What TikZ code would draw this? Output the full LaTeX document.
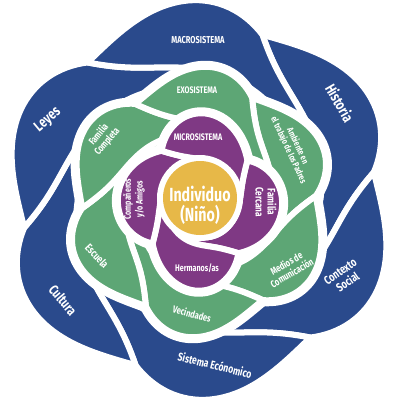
\documentclass[tikz,border=0pt]{standalone}
\usepackage{fontspec}
\setmainfont{Fira Sans}[FakeStretch=0.75]
\usepackage{xcolor}
\definecolor{macroblue}{RGB}{42,74,140}
\definecolor{exogreen}{RGB}{93,166,117}
\definecolor{micropurple}{RGB}{127,57,132}
\definecolor{childgold}{RGB}{231,184,72}
% one swirl leaf: outer edge from the tip on, inner edge along the leaf before it
\newcommand\petalpath[1]{plot[domain=0:3,samples=121] ({#1-90+\pP*\x}:{\pR*pr(\x)}) -- plot[domain=3:0,samples=121] ({#1-90+\pP*\x}:{\pR*pr(\x+1)}) -- cycle}

\begin{document}
\begin{tikzpicture}[x=1pt,y=-1pt,line join=round,
  declare function={pr(\u)=(\u<1) ? (1+\pH*sin(180*\u)*(1+\pC*(\u-0.5))) : (1-\pA*(1-exp(-\pK*(\u-1)))-0.05*(\u-1)*(\u-1));},
  halo/.style={fill=white,draw=white,line width=12pt},
  leaf/.style={fill=#1,draw=white,line width=6pt},
  lbl/.style={text=white,inner sep=0pt,align=center,font=\bfseries\fontsize{#1}{#1}\selectfont}]
\fill[white] (0,0) rectangle (400,400);
\useasboundingbox (0,0) rectangle (400,400);
% macrosistema
\begin{scope}[shift={(199,200)}]
\def\pR{177}\def\pH{0.118}\def\pC{1.5}\def\pA{0.25}\def\pK{5}\def\pP{60}
\path[leaf=macroblue] \petalpath{21};
\path[leaf=macroblue] \petalpath{81};
\path[leaf=macroblue] \petalpath{141};
\path[leaf=macroblue] \petalpath{201};
\path[leaf=macroblue] \petalpath{261};
\path[leaf=macroblue] \petalpath{321};
\end{scope}
% exosistema
\begin{scope}[shift={(199,202)}]
\def\pR{117}\def\pH{0.144}\def\pC{1.5}\def\pA{0.33}\def\pK{5}\def\pP{60}
\path[halo] \petalpath{27};
\path[halo] \petalpath{87};
\path[halo] \petalpath{147};
\path[halo] \petalpath{207};
\path[halo] \petalpath{267};
\path[halo] \petalpath{327};
\path[leaf=exogreen] \petalpath{27};
\path[leaf=exogreen] \petalpath{87};
\path[leaf=exogreen] \petalpath{147};
\path[leaf=exogreen] \petalpath{207};
\path[leaf=exogreen] \petalpath{267};
\path[leaf=exogreen] \petalpath{327};
\end{scope}
% microsistema
\begin{scope}[shift={(200,202)},yscale=1.08]
\def\pR{61}\def\pH{0.343}\def\pC{-0.5}\def\pA{0.37}\def\pK{6}\def\pP{90}
\path[halo] \petalpath{51};
\path[halo] \petalpath{141};
\path[halo] \petalpath{231};
\path[halo] \petalpath{321};
\path[leaf=micropurple] \petalpath{51};
\path[leaf=micropurple] \petalpath{141};
\path[leaf=micropurple] \petalpath{231};
\path[leaf=micropurple] \petalpath{321};
\end{scope}
% individuo
\fill[white] (200,198) circle (43);
\fill[childgold] (200,198) circle (37);

\node[lbl=10] (macro) at (198,40) {MACROSISTEMA};
\node[lbl=15,rotate=40] (leyes) at (48,120) {Leyes};
\node[lbl=15,rotate=-60] (historia) at (340,103) {Historia};
\node[lbl=12,rotate=35] (contexto) at (344,277) {Contexto\\[1pt]Social};
\node[lbl=11.5,rotate=-14] (economico) at (215,365) {Sistema Ecónomico};
\node[lbl=14,rotate=-50] (cultura) at (63,300) {Cultura};

\node[lbl=9.5] (exo) at (197,90) {EXOSISTEMA};
\node[lbl=10,rotate=50] (completa) at (103,138) {Familia\\[1pt]Completa};
\node[lbl=9,rotate=-65] (padres) at (293,148) {Ambiente en\\[1pt]el trabajo de los Padres};
\node[lbl=10,rotate=30] (medios) at (289,268) {Medios de\\[1pt]Comunicación};
\node[lbl=10,rotate=-15] (vecindades) at (192,314) {Vecindades};
\node[lbl=11,rotate=-47] (escuela) at (97,256) {Escuela};

\node[lbl=9.5] (micro) at (198,137) {MICROSISTEMA};
\node[lbl=11,rotate=-90] (cercana) at (266,202) {Familia\\[1pt]Cercana};
\node[lbl=9.5] (hermanos) at (197,268) {Hermanos/as};
\node[lbl=9.5,rotate=90] (amigos) at (134,199) {Compañeros\\[1pt]y/o Amigos};

\node[lbl=19] (nino) at (200,205) {Individuo\\[1pt](Niño)};
\end{tikzpicture}
\end{document}
